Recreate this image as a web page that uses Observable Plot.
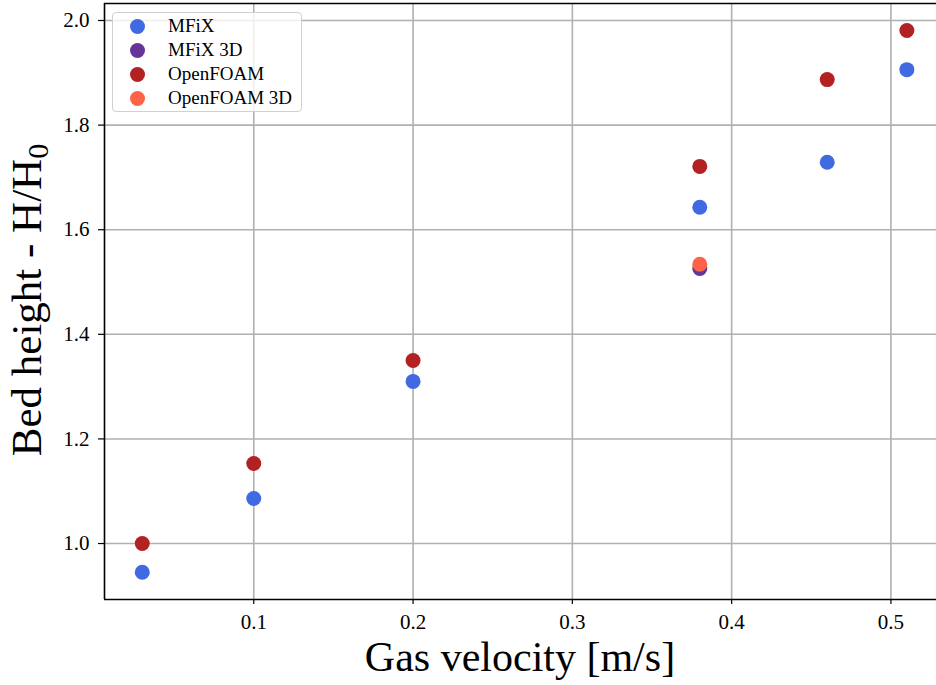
<!DOCTYPE html>
<html><head><meta charset="utf-8">
<script src="https://cdn.jsdelivr.net/npm/d3@7"></script>
<script src="https://cdn.jsdelivr.net/npm/@observablehq/plot@0.6"></script>
<style>
body{margin:0;background:#fff;}
#wrap{position:relative;width:936px;height:685px;font-family:"Liberation Serif","DejaVu Serif",serif;overflow:hidden;}
#wrap svg{position:absolute;left:0;top:0;}
.xlabel{position:absolute;left:104px;width:832px;text-align:center;top:636px;font-size:42px;line-height:1;color:#000;}
.ylabel{position:absolute;left:26px;top:300px;font-size:43px;line-height:1;white-space:nowrap;transform:translate(-50%,-50%) rotate(-90deg);color:#000;}
.ylabel sub{font-size:0.7em;vertical-align:-0.25em;line-height:0;}
.legend{position:absolute;left:112px;top:12px;width:190px;height:100px;box-sizing:border-box;border:1px solid #d0d0d0;border-radius:4px;background:rgba(255,255,255,0.8);}
.legend .row{position:absolute;left:0;height:24px;display:flex;align-items:center;font-size:19px;}
.legend .sw{position:absolute;left:17px;width:15px;height:15px;border-radius:50%;}
.legend .tx{position:absolute;left:55px;white-space:nowrap;}
</style></head><body><div id="wrap"></div>
<script>
const seriesNames = ["MFiX", "MFiX 3D", "OpenFOAM", "OpenFOAM 3D"];
const seriesColors = ["#4169e1", "#663399", "#b22222", "#ff6347"];
const mfixX = [0.03, 0.1, 0.2, 0.38, 0.46, 0.51];
const mfixY = [0.945, 1.086, 1.310, 1.643, 1.729, 1.906];
const mfix3dX = [0.38];
const mfix3dY = [1.526];
const openfoamX = [0.03, 0.1, 0.2, 0.38, 0.46, 0.51];
const openfoamY = [1.000, 1.153, 1.350, 1.721, 1.887, 1.981];
const openfoam3dX = [0.38];
const openfoam3dY = [1.534];
const xTicks = [0.1, 0.2, 0.3, 0.4, 0.5];
const yTicks = [1.0, 1.2, 1.4, 1.6, 1.8, 2.0];
const xDomain = [0.0063, 0.5286];
const yDomain = [0.893, 2.0325];

const rows = [];
const add = (name, xs, ys) => xs.forEach((x, i) => rows.push({series: name, x, y: ys[i]}));
add("MFiX", mfixX, mfixY);
add("MFiX 3D", mfix3dX, mfix3dY);
add("OpenFOAM", openfoamX, openfoamY);
add("OpenFOAM 3D", openfoam3dX, openfoam3dY);

const plot = Plot.plot({
  width: 936, height: 685,
  marginLeft: 104, marginRight: 0, marginTop: 3, marginBottom: 86,
  style: {fontFamily: '"Liberation Serif","DejaVu Serif",serif', fontSize: "21px", background: "transparent", color: "#000"},
  x: {domain: xDomain},
  y: {domain: yDomain},
  color: {domain: seriesNames, range: seriesColors},
  marks: [
    Plot.gridX(xTicks, {stroke: "#b0b0b0", strokeOpacity: 1, strokeWidth: 1.6}),
    Plot.gridY(yTicks, {stroke: "#b0b0b0", strokeOpacity: 1, strokeWidth: 1.6}),
    Plot.ruleX([xDomain[0]], {stroke: "#000", strokeWidth: 1.6}),
    Plot.ruleY([yDomain[0], yDomain[1]], {stroke: "#000", strokeWidth: 1.6}),
    Plot.dot(rows, {x: "x", y: "y", fill: "series", r: 7.5, stroke: "none"}),
    Plot.axisX(xTicks, {tickSize: 5, tickPadding: 10, tickFormat: d => d.toFixed(1), fontSize: 21, label: null, strokeWidth: 1.2}),
    Plot.axisY(yTicks, {tickSize: 6, tickPadding: 9, tickFormat: d => d.toFixed(1), fontSize: 21, label: null, strokeWidth: 1.2})
  ]
});
const wrap = document.getElementById("wrap");
wrap.appendChild(plot);

const xl = document.createElement("div");
xl.className = "xlabel";
xl.textContent = "Gas velocity [m/s]";
wrap.appendChild(xl);

const yl = document.createElement("div");
yl.className = "ylabel";
yl.innerHTML = "Bed height - H/H<sub>0</sub>";
wrap.appendChild(yl);

const lg = document.createElement("div");
lg.className = "legend";
seriesNames.forEach((name, i) => {
  const r = document.createElement("div");
  r.className = "row";
  r.style.top = (1 + i * 24) + "px";
  r.style.width = "100%";
  const sw = document.createElement("span");
  sw.className = "sw";
  sw.style.background = seriesColors[i];
  const tx = document.createElement("span");
  tx.className = "tx";
  tx.textContent = name;
  r.appendChild(sw); r.appendChild(tx);
  lg.appendChild(r);
});
wrap.appendChild(lg);
</script>
</body></html>
